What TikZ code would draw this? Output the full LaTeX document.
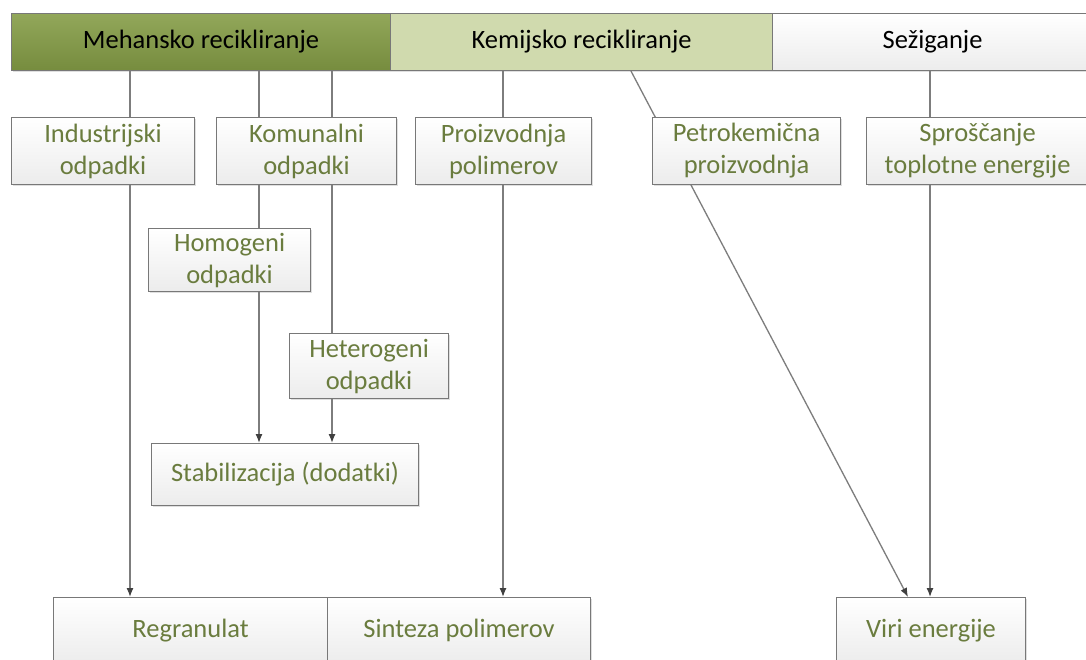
\documentclass[tikz,border=0pt]{standalone}
\usepackage{fontspec}
\setmainfont{Carlito}
\usetikzlibrary{arrows.meta,backgrounds,shadows}
\definecolor{txtgreen}{RGB}{106,124,62}
\definecolor{boxborder}{RGB}{120,120,120}
\definecolor{boxbottom}{RGB}{236,236,236}
\definecolor{medtop}{RGB}{146,167,90}
\definecolor{medbot}{RGB}{118,140,62}
\definecolor{kemfill}{RGB}{208,218,174}
\definecolor{linegray}{RGB}{125,125,125}
\begin{document}
\begin{tikzpicture}[x=1pt,y=-1pt,
  base/.style={draw=boxborder, line width=1.1pt, align=center, inner sep=0pt,
    anchor=north west, font=\fontsize{26.5}{32}\selectfont,
    drop shadow={shadow xshift=1.5pt, shadow yshift=-1.5pt, opacity=0.25}},
  box/.style={base, top color=white, bottom color=boxbottom, text=txtgreen},
  bar/.style={base, text=black, minimum height=57},
  conn/.style={draw=linegray, line width=1.3pt,
    -{Latex[length=9pt,width=7pt,color=black!75]}}]
\useasboundingbox (0,0) rectangle (1086,660);
% top bar
\node[bar, top color=medtop, bottom color=medbot, minimum width=379] (meh) at (11,13) {Mehansko recikliranje};
\node[bar, fill=kemfill, minimum width=382] (kem) at (390,13) {Kemijsko recikliranje};
\node[bar, top color=white, bottom color=boxbottom, minimum width=320] (sez) at (772,13) {Sežiganje};
% second row
\node[box, minimum width=183, minimum height=67] (ind) at (11,117) {Industrijski\\odpadki};
\node[box, minimum width=180, minimum height=67] (kom) at (216,117) {Komunalni\\odpadki};
\node[box, minimum width=176, minimum height=67] (pro) at (415,117) {Proizvodnja\\polimerov};
\node[box, minimum width=188, minimum height=67] (pet) at (652,117) {Petrokemična\\proizvodnja};
\node[box, minimum width=222, minimum height=67] (spr) at (866,117) {Sproščanje\\toplotne energije};
% middle
\node[box, minimum width=162, minimum height=63] (hom) at (148,228) {Homogeni\\odpadki};
\node[box, minimum width=159, minimum height=65] (het) at (289,333) {Heterogeni\\odpadki};
\node[box, minimum width=267, minimum height=62] (stab) at (151,443) {Stabilizacija (dodatki)};
% bottom row
\node[box, minimum width=274, minimum height=66] (reg) at (53,597) {Regranulat};
\node[box, minimum width=263, minimum height=66] (sin) at (327,597) {Sinteza polimerov};
\node[box, minimum width=189, minimum height=66] (viri) at (836,597) {Viri energije};
% x positions of connectors
\coordinate (xa) at (130,0);
\coordinate (xb) at (259,0);
\coordinate (xc) at (332,0);
\coordinate (xd) at (503,0);
\coordinate (xe) at (631,0);
\coordinate (xf) at (908,0);
\coordinate (xg) at (930,0);
\begin{scope}[on background layer]
\fill[white] (0,0) rectangle (1086,660);
\draw[conn] (xa |- meh.south) -- (xa |- reg.north);
\draw[conn] (xb |- meh.south) -- (xb |- stab.north);
\draw[conn] (xc |- meh.south) -- (xc |- stab.north);
\draw[conn] (xd |- kem.south) -- (xd |- sin.north);
\draw[conn] (xe |- kem.south) -- (xf |- viri.north);
\draw[conn] (xg |- sez.south) -- (xg |- viri.north);
\end{scope}
\end{tikzpicture}
\end{document}
